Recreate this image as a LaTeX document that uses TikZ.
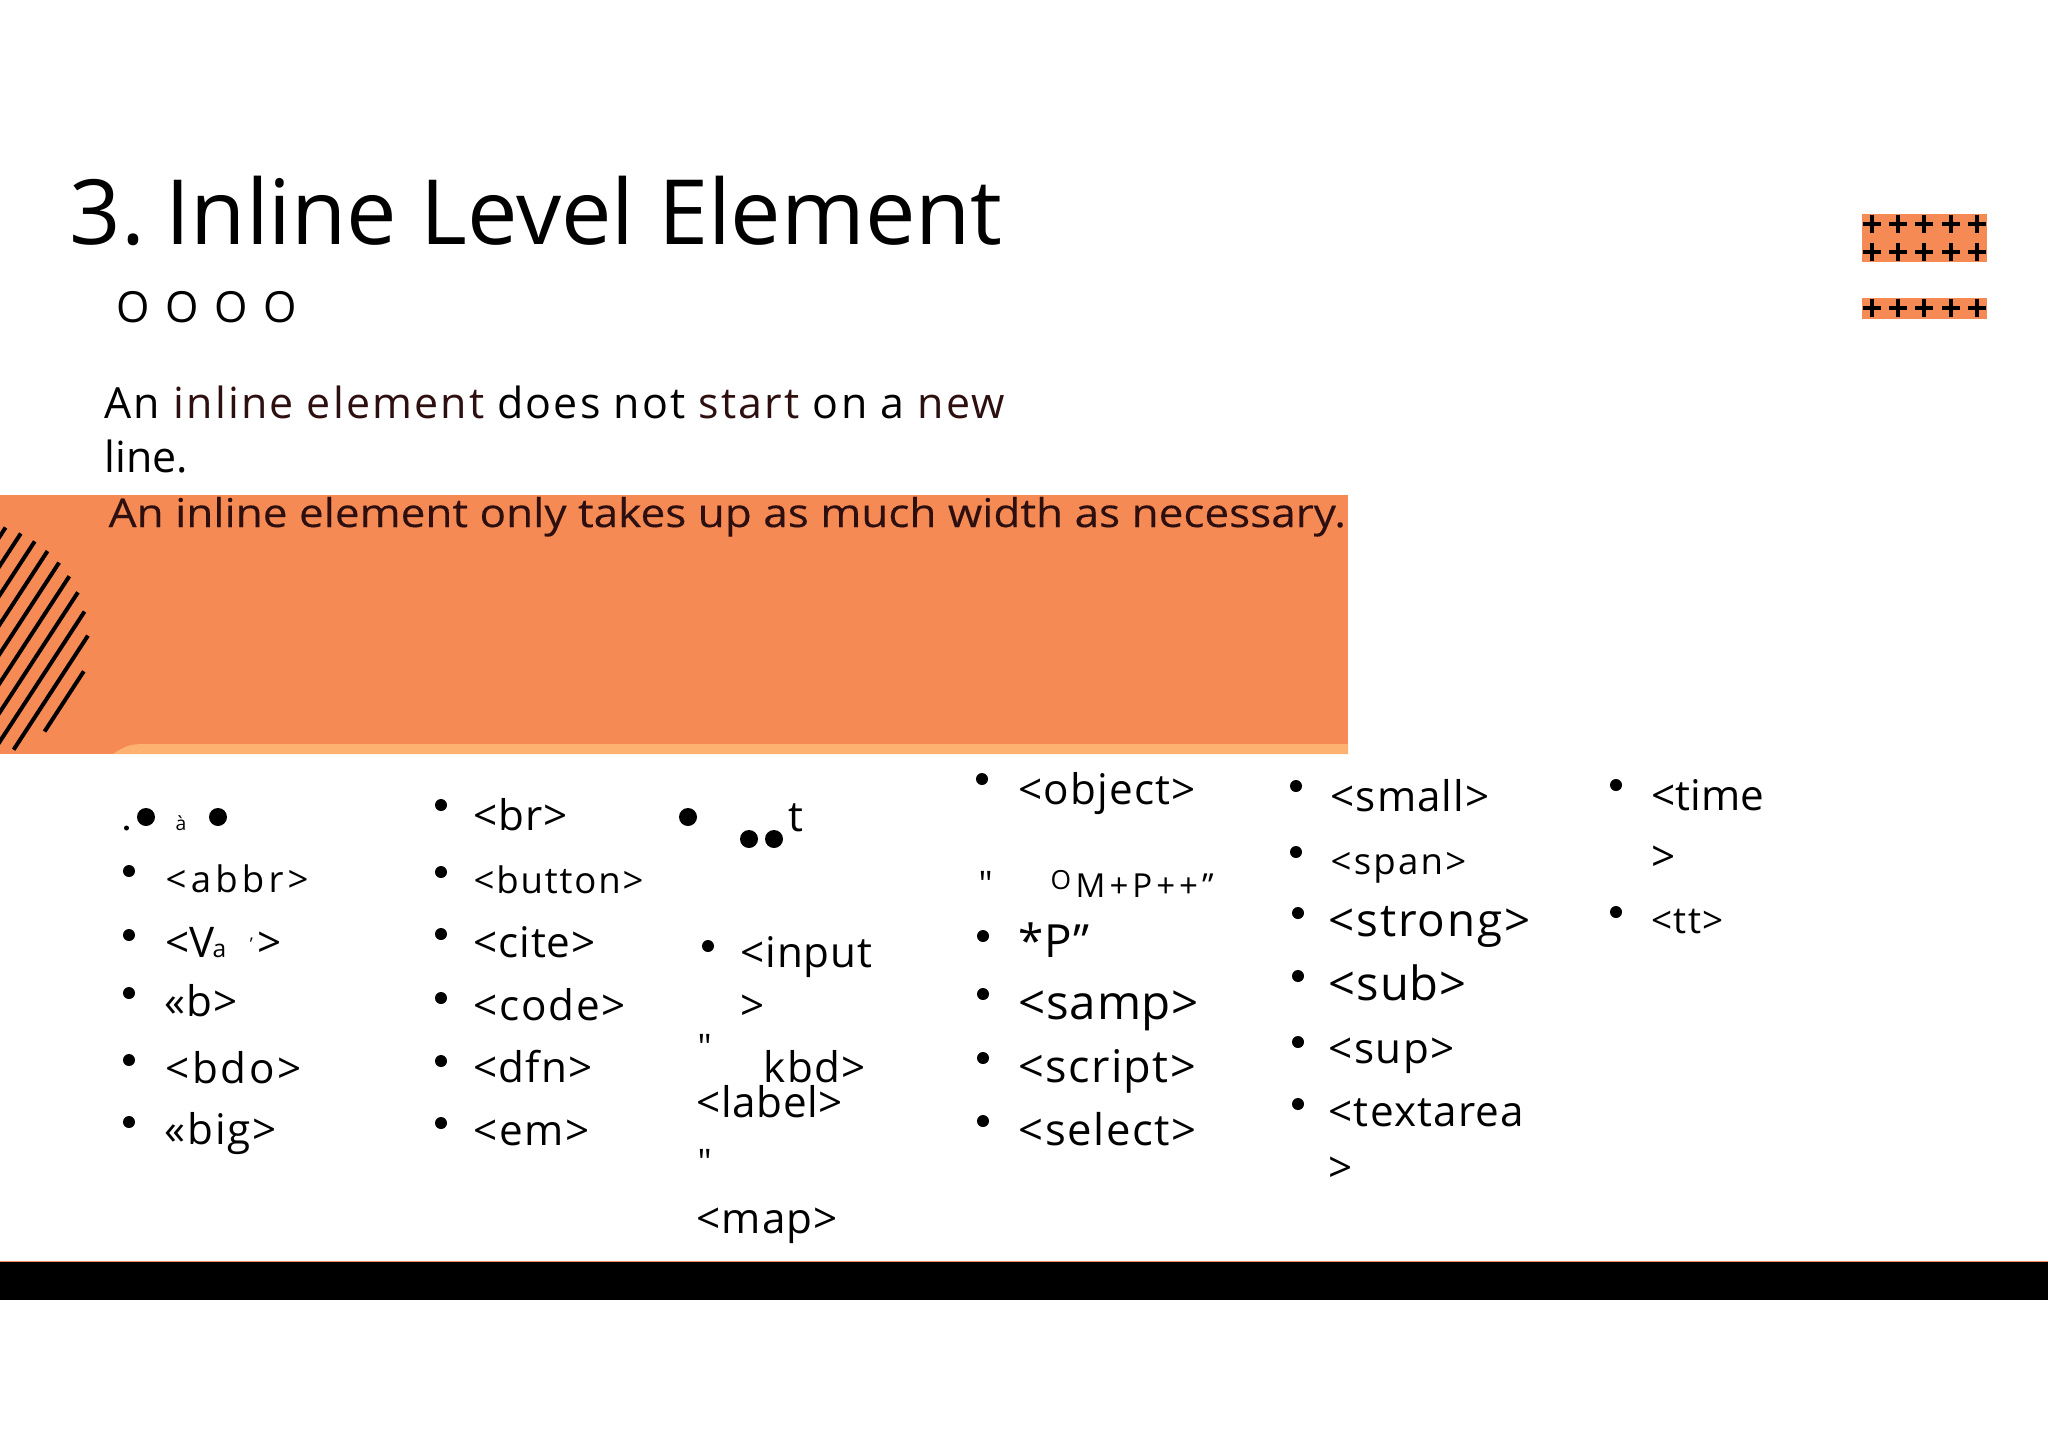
\documentclass[tikz,border=0pt]{standalone}
\usepackage{fontspec}
\setmainfont{Open Sans}
\newfontfamily\straightfont{Open Sans}
\definecolor{bandorange}{HTML}{F58A55}
\definecolor{bandlight}{HTML}{FDB272}
\definecolor{inkred}{HTML}{2E0F0F}
\tikzset{
  txt/.style={inner sep=0pt,anchor=base west},
  title/.style={txt,font=\fontsize{25.6pt}{30pt}\selectfont},
  body/.style={txt,font=\fontsize{12.2pt}{15pt}\selectfont\addfontfeatures{LetterSpace=#1}},
  item/.style 2 args={txt,font=\fontsize{#1pt}{15pt}\selectfont\addfontfeatures{LetterSpace=#2}},
  quotemark/.style={txt,font=\fontsize{10pt}{12pt}\straightfont\selectfont},
  thinbar/.style={line width=4*0.01cm,line cap=butt}
}
\begin{document}
\begin{tikzpicture}[line cap=round,line join=round,x=0.01cm,y=-0.01cm]
\useasboundingbox (0,0) rectangle (2048,1447);
% band and stripes
\fill [bandorange] (0,495) rectangle (1348,754);
\fill [bandlight] (113,754) .. controls (125,746) and (130,744) .. (145,744) -- (1348,744) -- (1348,754) -- cycle;
\begin{scope}
\clip (0,495) rectangle (1348,754);
\foreach \k in {-12,...,1} {
  \pgfmathsetmacro\hh{420.7+16*\k-324.3}
  \pgfmathsetmacro\hw{sqrt(118*118-\hh*\hh)}
  \pgfmathsetmacro\mx{-30+\hh*0.838}
  \pgfmathsetmacro\my{640+\hh*0.546}
  \draw [thinbar] ({\mx-\hw*0.546},{\my+\hw*0.838}) -- ({\mx+\hw*0.546},{\my-\hw*0.838});
}
\end{scope}
% plus marks
\fill [bandorange] (1862,214) rectangle (1987,262);
\fill [bandorange] (1862,298) rectangle (1987,319);
\foreach \py in {224,252,308}
  \foreach \px in {1872,1898,1924,1951,1977} {
    \draw [thinbar] (\px-9,\py) -- (\px+9,\py);
    \draw [thinbar] (\px,\py-9) -- (\px,\py+9);
  }
% bottom bar
\fill [black] (0,1261) rectangle (2048,1300);
\draw [bandorange,line width=0.01cm] (0,1261) -- (2048,1261);
% heading
\draw (69,244) node[title] (heading) {3.\hspace{-3pt} Inline Level Element};
\draw (116,322) node[body=10] (rings) {O O O O};
\draw (104,418) node[body=5] (lineone) {An \textcolor{inkred}{inline element} does not \textcolor{inkred}{start} on a \textcolor{inkred}{new}};
\draw (104,472) node[body=0] (linetwo) {line.};
\draw (108,527) node[txt,font=\fontsize{11.3pt}{14pt}\selectfont\addfontfeatures{FakeStretch=1.11,FakeBold=0.3},text=inkred] (bandtext) {An inline element only takes up as much width as necessary.};
% first column
\fill (126.5,828) circle (2.5);
\fill (146,817) circle (9);
\fill (218,817) circle (9);
\fill (129,871) circle (6);
\fill (129,935) circle (6);
\fill (129,993) circle (6);
\fill (129,1060) circle (6);
\fill (129,1122) circle (6);
\draw (175,830) node[item={5.5}{0}] (agrave) {à};
\draw (165,892) node[item={10.4}{11.5}] (abbr) {<abbr>};
\draw (165,957) node[item={12}{0}] (vlt) {<V};
\draw (212,957) node[item={7}{0}] (va) {a};
\draw (249,950) node[item={5}{0}] (vq) {'};
\draw (257,957) node[item={12}{0}] (vgt) {>};
\draw (164,1016) node[item={12}{2}] (bold) {«b>};
\draw (165,1083) node[item={12}{6}] (bdo) {<bdo>};
\draw (164,1144) node[item={12}{4.4}] (big) {«big>};
% second column
\fill (441,805) circle (6);
\fill (441,872) circle (6);
\fill (441,934) circle (6);
\fill (441,998) circle (6);
\fill (441,1061) circle (6);
\fill (441,1123) circle (6);
\draw (473,830) node[item={12}{2}] (br) {<br>};
\draw (473,893) node[item={10.4}{5}] (button) {<button>};
\draw (473,957) node[item={12}{2}] (cite) {<cite>};
\draw (473,1020) node[item={12}{4}] (code) {<code>};
\draw (473,1082) node[item={12}{2.5}] (dfn) {<dfn>};
\draw (473,1145) node[item={12}{4}] (em) {<em>};
% third column
\fill (688,817) circle (9);
\fill (749,839) circle (9);
\fill (774,839) circle (9);
\fill (708,946) circle (6);
\draw (788,831) node[item={12}{0}] (tee) {t};
\draw (740,967) node[item={12}{2}] (input) {<input};
\draw (740,1020) node[item={12}{0}] (inputend) {>};
\draw (697,1059) node[quotemark] (quoteone) {"};
\draw (763,1082) node[item={12}{3}] (kbd) {kbd>};
\draw (696,1117) node[item={12}{1.5}] (label) {<label>};
\draw (697,1174) node[quotemark] (quotetwo) {"};
\draw (696,1233) node[item={12}{2.5}] (map) {<map>};
% fourth column
\fill (982,779) circle (6);
\fill (983,936) circle (6);
\fill (983,994) circle (6);
\fill (983,1058) circle (6);
\fill (983,1121) circle (6);
\draw (1018,804) node[item={12}{2.7}] (object) {<object>};
\draw (978,896) node[quotemark] (quotethree) {"};
\draw (1050,889) node[item={7.5}{0}] (smallo) {O};
\draw (1075,897) node[item={9.4}{12}] (mpp) {M+P++”};
\draw (1018,957) node[item={13}{2}] (starp) {*P”};
\draw (1018,1019) node[item={13.5}{1.5}] (samp) {<samp>};
\draw (1018,1082) node[item={12.8}{3}] (script) {<script>};
\draw (1018,1145) node[item={12.4}{3.5}] (select) {<select>};
% fifth column
\fill (1296,786) circle (6);
\fill (1296,852) circle (6);
\fill (1298,913) circle (6);
\fill (1298,976) circle (6);
\fill (1298,1042) circle (6);
\fill (1298,1104) circle (6);
\draw (1330,811) node[item={12}{2.5}] (small) {<small>};
\draw (1330,874) node[item={10.4}{6}] (span) {<span>};
\draw (1328,936) node[item={13}{4}] (strong) {<strong>};
\draw (1328,1000) node[item={13.4}{2}] (sub) {<sub>};
\draw (1328,1063) node[item={12}{3.5}] (sup) {<sup>};
\draw (1328,1126) node[item={12}{2.8}] (textarea) {<textarea};
\draw (1328,1182) node[item={12}{0}] (textareaend) {>};
% sixth column
\fill (1616,785) circle (6);
\fill (1616,912) circle (6);
\draw (1651,810) node[item={12}{0}] (time) {<time};
\draw (1651,871) node[item={12}{0}] (timeend) {>};
\draw (1651,933) node[item={10.5}{3}] (tt) {<tt>};
\end{tikzpicture}
\end{document}
